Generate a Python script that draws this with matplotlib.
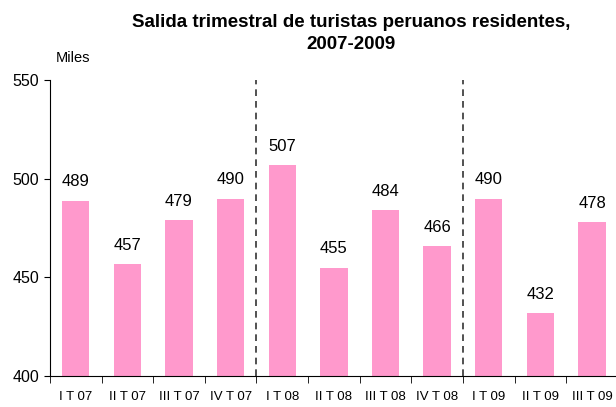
import matplotlib
matplotlib.use("Agg")
import matplotlib.pyplot as plt
import numpy as np

plt.rcParams['font.family'] = ['Liberation Sans', 'DejaVu Sans']

categories = ["I T 07", "II T 07", "III T 07", "IV T 07",
              "I T 08", "II T 08", "III T 08", "IV T 08",
              "I T 09", "II T 09", "III T 09"]
values = [489, 457, 479, 490, 507, 455, 484, 466, 490, 432, 478]
year_breaks = [3.5, 7.5]

fig = plt.figure(figsize=(6.16, 4.07), dpi=100)
ax = fig.add_axes([0.081, 0.076, 0.922, 0.727])

x = np.arange(len(categories))
ax.bar(x, values, width=0.53, color='#FF99CC', zorder=2)

for xi, v in zip(x, values):
    ax.annotate(str(v), (xi, v), xytext=(0, 8), textcoords='offset points',
                ha='center', va='bottom', fontsize=12)

for b in year_breaks:
    ax.axvline(b, color='#333333', linestyle=(0, (4, 3)), linewidth=1.2, zorder=3)

ax.set_ylim(400, 550)
ax.set_yticks([400, 450, 500, 550])
ax.set_xlim(-0.5, len(categories) - 0.5)
ax.set_xticks(x)
ax.set_xticklabels(categories, fontsize=9.5)
ax.set_xticks(np.arange(-0.5, len(categories), 1), minor=True)
ax.tick_params(axis='x', which='major', length=0, pad=11)
ax.tick_params(axis='x', which='minor', length=5, direction='out')
ax.tick_params(axis='y', labelsize=11.5, length=4, direction='out')

for s in ['top', 'right']:
    ax.spines[s].set_visible(False)

fig.text(0.57, 0.918, "Salida trimestral de turistas peruanos residentes,\n2007-2009",
         ha='center', va='center', fontsize=13.5, fontweight='bold', linespacing=1.35)
fig.text(0.119, 0.858, "Miles", ha='center', va='center', fontsize=10.5)

plt.savefig("out.png", dpi=100)
